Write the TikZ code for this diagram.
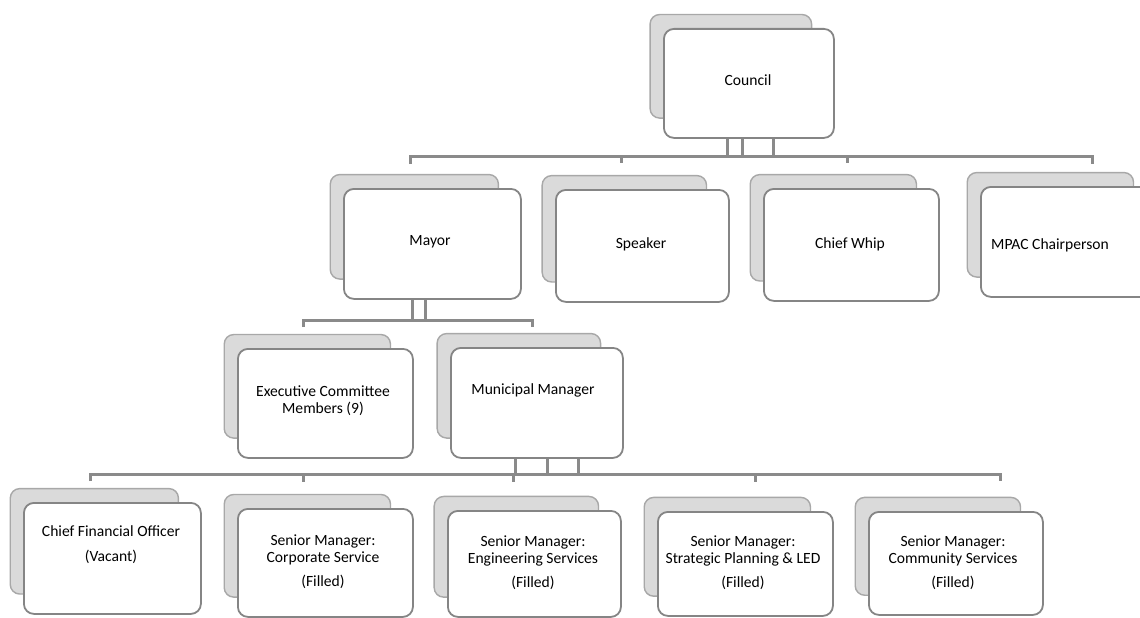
\documentclass[tikz,border=0pt]{standalone}
\usepackage{fontspec}
\setmainfont{Carlito}
\usetikzlibrary{shadows}

\definecolor{linegray}{HTML}{8A8A8A}
\definecolor{backfill}{HTML}{DADADA}
\definecolor{backedge}{HTML}{A8A8A8}
\definecolor{frontedge}{HTML}{858585}

\begin{document}
\begin{tikzpicture}[x=1pt,y=-1pt,
  orgbox/.style={draw=frontedge, line width=1.8pt, fill=white,
    rounded corners=10pt, anchor=north west, inner sep=0pt,
    minimum width=175pt, minimum height=110pt,
    general shadow={fill=backfill, draw=backedge, line width=1.5pt,
      shadow xshift=-19pt, shadow yshift=18pt, shadow scale=0.95}},
  lbl/.style={align=center, font=\fontsize{15.6}{17}\selectfont, inner sep=0pt},
  link/.style={draw=linegray, line width=3pt}]
\useasboundingbox (0,0) rectangle (1140,618);
\clip (0,0) rectangle (1140,618);

% ---- boxes ----
\node[orgbox, minimum width=170pt, minimum height=109pt] (council) at (663,28) {};

\node[orgbox, minimum width=177pt, minimum height=110pt] (mayor)   at (343,188) {};
\node[orgbox, minimum width=173pt, minimum height=112pt] (speaker) at (555,189) {};
\node[orgbox, minimum width=175pt, minimum height=112pt] (whip)    at (763,188) {};
\node[orgbox, minimum width=175pt, minimum height=110pt] (mpac)    at (980,186) {};

\node[orgbox, minimum width=175pt, minimum height=109pt] (exec) at (237,348) {};
\node[orgbox, minimum width=172pt, minimum height=110pt] (mm)   at (450,347) {};

\node[orgbox, minimum width=177pt, minimum height=111pt] (cfo)  at (23,502) {};
\node[orgbox, minimum width=175pt, minimum height=108pt] (corp) at (237,508) {};
\node[orgbox, minimum width=173pt, minimum height=106pt] (eng)  at (447,510) {};
\node[orgbox, minimum width=175pt, minimum height=104pt] (strat) at (657,511) {};
\node[orgbox, minimum width=174pt, minimum height=103pt] (comm) at (868,511) {};

% ---- labels ----
\node[lbl] (t-council) at (748,80)  {Council};
\node[lbl] (t-mayor)   at (430,242) {Mayor};
\node[lbl] (t-speaker) at (641,244) {Speaker};
\node[lbl] (t-whip)    at (850,244) {Chief Whip};
\node[lbl] (t-mpac)    at (1050,245) {MPAC Chairperson};

\node[lbl] (t-exec) at (323,401) {Executive Committee\\Members (9)};
\node[lbl] (t-mm)   at (533,390) {Municipal Manager};

\node[lbl] (t-cfo)   at (111,545) {Chief Financial Officer\\[8pt](Vacant)};
\node[lbl] (t-corp)  at (323,562) {Senior Manager:\\Corporate Service\\[7pt](Filled)};
\node[lbl] (t-eng)   at (533,563) {Senior Manager:\\Engineering Services\\[7pt](Filled)};
\node[lbl] (t-strat) at (743,563) {Senior Manager:\\Strategic Planning \& LED\\[7pt](Filled)};
\node[lbl] (t-comm)  at (953,563) {Senior Manager:\\Community Services\\[7pt](Filled)};

% ---- council to second row ----
\coordinate (busA-w) at (410,156);
\coordinate (busA-e) at (1092,156);
\coordinate (busA-s) at (621,156);
\coordinate (busA-c) at (847,156);
\draw[link] ([xshift=64pt]council.south west) -- ([xshift=64pt]council.south west |- busA-w);
\draw[link] ([xshift=79pt]council.south west) -- ([xshift=79pt]council.south west |- busA-w);
\draw[link] ([xshift=110pt]council.south west) -- ([xshift=110pt]council.south west |- busA-w);
\draw[link] ([yshift=-8pt]busA-w) -- (busA-w) -- (busA-e) -- ([yshift=-8pt]busA-e);
\draw[link] (busA-s) -- ([yshift=-7pt]busA-s);
\draw[link] (busA-c) -- ([yshift=-7pt]busA-c);

% ---- mayor to third row ----
\coordinate (busB-w) at (303,320);
\coordinate (busB-e) at (532,320);
\draw[link] ([xshift=69pt]mayor.south west) -- ([xshift=69pt]mayor.south west |- busB-w);
\draw[link] ([xshift=82pt]mayor.south west) -- ([xshift=82pt]mayor.south west |- busB-w);
\draw[link] ([yshift=-7pt]busB-w) -- (busB-w) -- (busB-e) -- ([yshift=-7pt]busB-e);

% ---- municipal manager to fourth row ----
\coordinate (busC-w) at (90,474);
\coordinate (busC-e) at (1000,474);
\coordinate (busC-2) at (303,474);
\coordinate (busC-3) at (513,474);
\coordinate (busC-4) at (755,474);
\draw[link] ([xshift=65pt]mm.south west) -- ([xshift=65pt]mm.south west |- busC-w);
\draw[link] ([xshift=97pt]mm.south west) -- ([xshift=97pt]mm.south west |- busC-w);
\draw[link] ([xshift=128pt]mm.south west) -- ([xshift=128pt]mm.south west |- busC-w);
\draw[link] ([yshift=-7pt]busC-w) -- (busC-w) -- (busC-e) -- ([yshift=-7pt]busC-e);
\draw[link] (busC-2) -- ([yshift=-8pt]busC-2);
\draw[link] (busC-3) -- ([yshift=-8pt]busC-3);
\draw[link] (busC-4) -- ([yshift=-8pt]busC-4);
\end{tikzpicture}
\end{document}
